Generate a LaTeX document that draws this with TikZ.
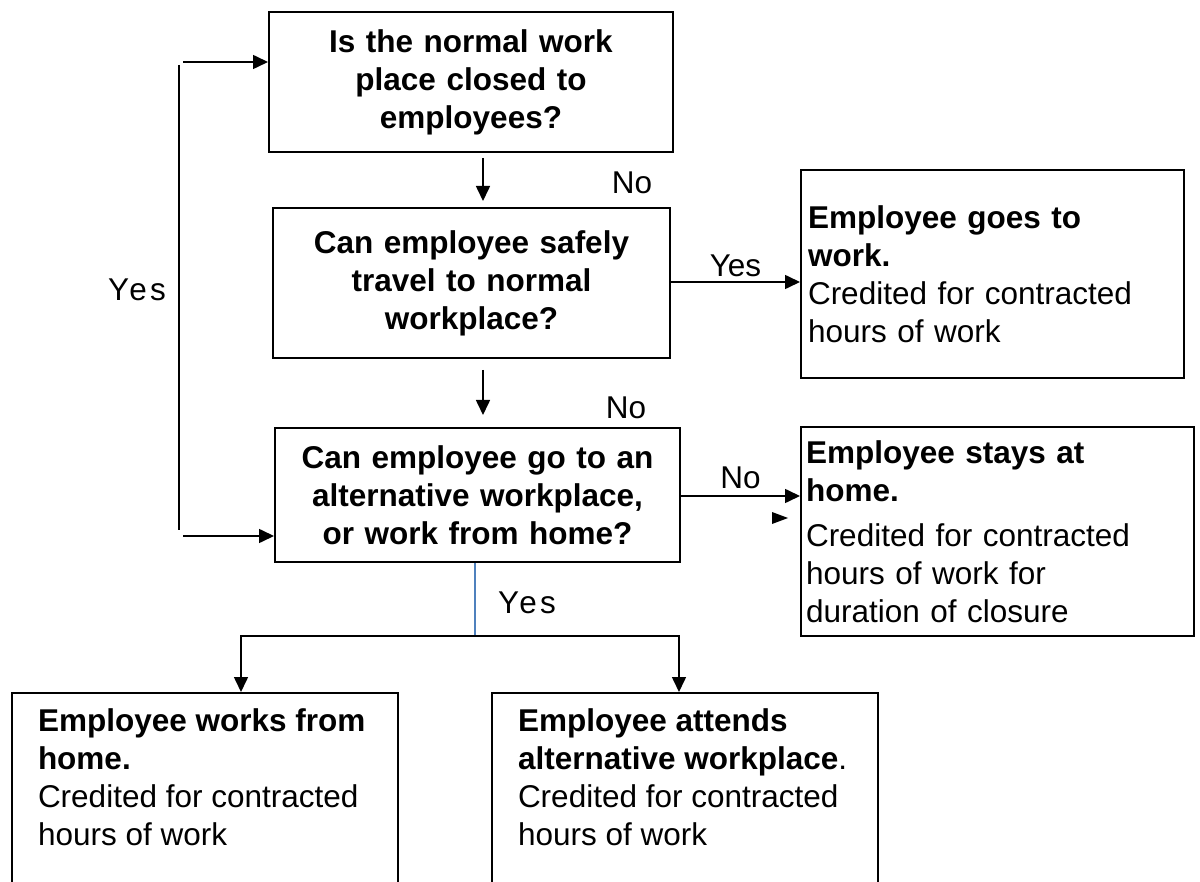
\documentclass[tikz,border=0pt]{standalone}
\usepackage{fontspec}
\setmainfont{Liberation Sans}
\usepackage{xcolor}
\usetikzlibrary{arrows.meta}
\definecolor{linkblue}{RGB}{79,129,189}

\begin{document}
\begin{tikzpicture}[
    x=1pt, y=-1pt,
    qbox/.style={draw, line width=2pt, align=center, text width=380pt, font=\bfseries\fontsize{31.5}{38}\selectfont},
    rbox/.style={draw, line width=2pt, align=left, font=\fontsize{31.5}{38}\selectfont},
    bbox/.style={draw, line width=2pt, inner xsep=26pt, inner ysep=16pt, anchor=north west, font=\fontsize{31.5}{38}\selectfont},
    lbl/.style={font=\fontsize{31.5}{38}\selectfont},
    slbl/.style={font=\fontsize{31.5}{38}\selectfont\addfontfeature{LetterSpace=10}},
    arr/.style={line width=1.6pt, -{Triangle[length=15pt,width=14pt]}},
    link/.style={line width=1.6pt}
]
    \useasboundingbox (0,0) rectangle (1200,882);
    \clip (0,0) rectangle (1200,882);

    % questions
    \node[qbox, minimum width=404pt, minimum height=140pt] (q1) at (471,82) {Is the normal work\\place closed to\\employees?};
    \node[qbox, minimum width=397pt, minimum height=150pt] (q2) at (471.5,283) {Can employee safely\\travel to normal\\workplace?};
    \node[qbox, minimum width=405pt, minimum height=134pt] (q3) at (477.5,495) {Can employee go to an\\alternative workplace,\\or work from home?};

    % outcomes
    \node[rbox, text width=369pt, inner xsep=7pt, minimum height=208pt] (r1) at (992.5,274) {\textbf{Employee goes to}\\\textbf{work.}\\Credited for contracted\\hours of work};
    \node[rbox, text width=383pt, inner xsep=5pt, minimum height=209pt] (r2) at (997.5,531.5) {\textbf{Employee stays at}\\\textbf{home.}\\[7pt]Credited for contracted\\hours of work for\\duration of closure};
    \node[bbox] (b1) at (11,692) {\parbox[c][200pt][t]{334pt}{\raggedright\textbf{Employee works from}\\\textbf{home.}\\Credited for contracted\\hours of work}};
    \node[bbox] (b2) at (491,692) {\parbox[c][200pt][t]{334pt}{\raggedright\textbf{Employee attends}\\\textbf{alternative workplace}.\\Credited for contracted\\hours of work}};

    % down arrows
    \draw[arr] ([xshift=12pt, yshift=-5pt]q1.south) -- ([xshift=11.5pt, yshift=6pt]q2.north);
    \node[lbl] (n1) at (632,183) {No};
    \draw[arr] ([xshift=11.5pt, yshift=-11pt]q2.south) -- ([xshift=5.5pt, yshift=12pt]q3.north);
    \node[lbl] (n2) at (626,408) {No};

    % to the right
    \draw[arr] ([yshift=1pt]q2.east) -- ([yshift=1pt]q2.east -| r1.west) node[lbl, midway, above=1pt] (y1) {Yes};
    \draw[arr] ([yshift=-1pt]q3.east) -- ([yshift=-1pt]q3.east -| r2.west) node[lbl, midway, above=3pt] (n3) {No};
    \fill (772,512) -- (788,518) -- (772,524) -- cycle;

    % loop on the left
    \coordinate (lp1) at (183,62);
    \coordinate (lp2) at (183,536);
    \coordinate (lv1) at (179,65);
    \coordinate (lv2) at (179,530);
    \draw[arr] (lp1) -- (lp1 -| q1.west);
    \draw[arr] (lp2) -- (lp2 -| q3.west);
    \draw[link] (lv1) -- (lv2);
    \node[slbl] (y2) at (137,290) {Yes};

    % branch below
    \draw[linkblue, line width=1.5pt] ([xshift=-2.5pt]q3.south) -- ++(0,74) coordinate (bm);
    \node[slbl] (y3) at (527,603) {Yes};
    \coordinate (bl) at (241,636);
    \coordinate (br) at (679,636);
    \draw[link, {Triangle[length=15pt,width=14pt]}-{Triangle[length=15pt,width=14pt]}] (bl |- b1.north) -- (bl) -- (br) -- (br |- b2.north);
\end{tikzpicture}
\end{document}
